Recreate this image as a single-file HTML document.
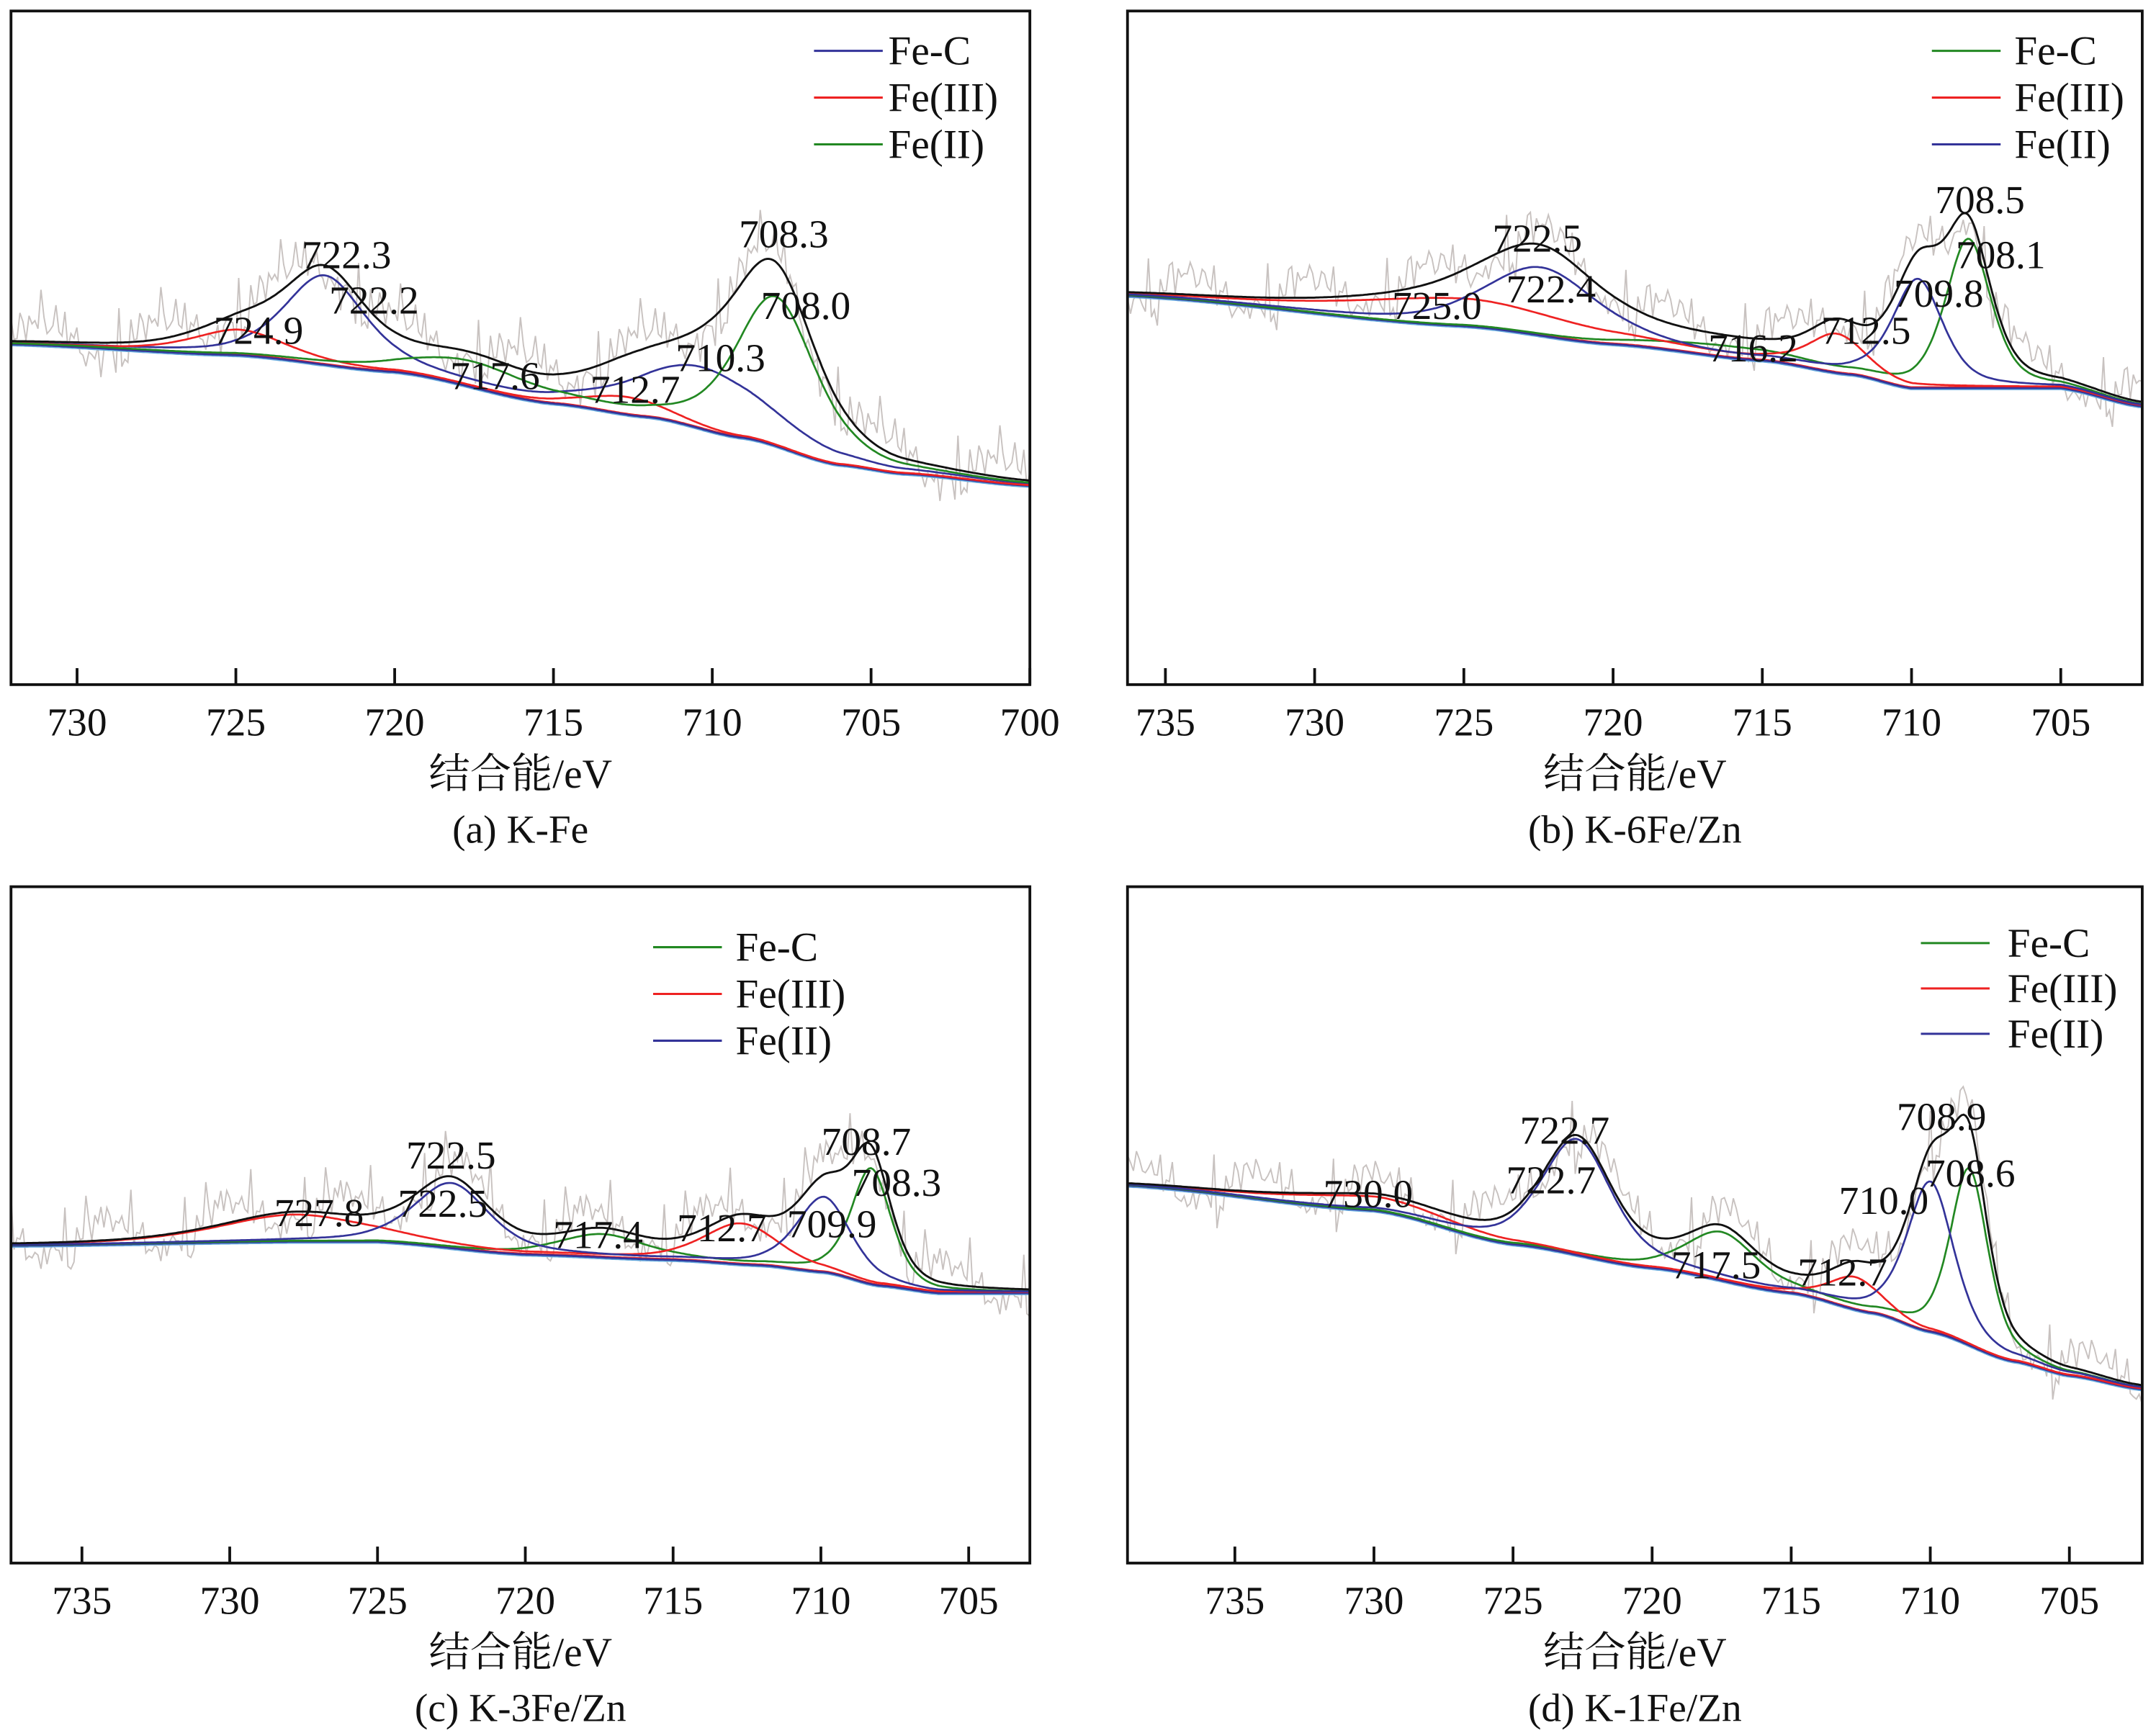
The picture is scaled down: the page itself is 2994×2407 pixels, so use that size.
<!DOCTYPE html>
<html><head><meta charset="utf-8"><style>
html,body{margin:0;padding:0;background:#fff}
svg{display:block}
text{font-family:"Liberation Serif","Noto Serif CJK SC",serif;fill:#111}
</style></head><body>
<svg id="fig" width="2994" height="2407" viewBox="0 0 1568 1260.6" preserveAspectRatio="none" xmlns="http://www.w3.org/2000/svg"></svg>
<script>
// ---------- data ----------
const panelIds=['a','b','c','d'];
const captions=['(a) K-Fe','(b) K-6Fe/Zn','(c) K-3Fe/Zn','(d) K-1Fe/Zn'];
const xTicksA=[730,725,720,715,710,705,700];
const xTicksB=[735,730,725,720,715,710,705];
const xTicksC=[735,730,725,720,715,710,705];
const xTicksD=[735,730,725,720,715,710,705];
const legendA=['Fe-C','Fe(III)','Fe(II)'];
const legendB=['Fe-C','Fe(III)','Fe(II)'];
// baseline points [eV, intensity]
const baseA=[[732.1,50.6],[725,49.0],[720,46.5],[715,41.8],[712,39.8],[709,36.7],[706,32.7],[704,31.4],[700,29.6]];
const baseB=[[736.3,57.8],[725,53.3],[720,50.6],[715,48.2],[712,46.1],[710,44.1],[707,44.1],[705,44.1],[702.3,41.4]];
const baseC=[[737.4,47.0],[727.8,47.6],[725,47.6],[720,45.7],[715,44.9],[712,44.1],[709.9,43.1],[708,41.1],[706,40.0],[702.9,40.0]];
const baseD=[[738.9,55.9],[730,52.2],[725,47.2],[720,43.7],[715,40.0],[712,37.0],[710,34.3],[707,29.9],[705,27.8],[702.4,25.8]];
// peaks: [component index (0=Fe-C,1=Fe(III),2=Fe(II)), center eV, height, fwhm]
const peaksA=[[0,722.2,13,3],[0,710.3,9,5],[1,724.9,3.7,3.5],[1,712.7,2.5,3],[2,708.0,22,3],[2,717.6,3.5,4.5]];
const peaksB=[[2,722.4,10,4.5],[1,725.0,4,9],[1,712.5,5.5,2.2],[2,709.8,16,2.0],[0,708.1,22,1.8],[0,716.2,1.5,6]];
const peaksC=[[2,722.5,9.5,3],[1,727.8,3.9,6],[0,717.4,3.3,3.5],[1,712.7,5.9,3],[2,709.9,11,2.2],[0,708.3,17,1.6]];
const peaksD=[[2,722.7,17,3],[1,730.0,2,7],[0,717.5,7,3],[1,712.7,4.7,2.2],[2,710.0,22,2],[0,708.6,26,1.6]];
// peak labels [text, x (display), y]
const labelsA=[['722.3',252,195],['722.2',272,228],['724.9',188,250],['717.6',360,283],['712.7',462,293],['710.3',524,270],['708.3',570,180],['708.0',586,232]];
const labelsB=[['722.5',1118,183],['722.4',1128,220],['725.0',1045,232],['716.2',1275,263],['712.5',1357,250],['709.8',1410,223],['708.5',1440,155],['708.1',1455,195]];
const labelsC=[['722.5',328,850],['722.5',322,885],['727.8',232,892],['717.4',435,908],['712.7',525,903],['709.9',605,900],['708.7',630,840],['708.3',652,870]];
const labelsD=[['722.7',1138,832],['722.7',1128,868],['730.0',995,878],['717.5',1248,930],['712.7',1340,935],['710.0',1370,883],['708.9',1412,822],['708.6',1433,863]];
// raw-data scatter offsets (hand-read, cycled)
const noiseVals=[2.1,-1.5,3.8,-0.6,1.2,-2.8,4.5,0.3,-1.9,2.6,-3.2,1.7,5.1,-0.9,0.4,-2.2,3.1,-1.1,2.4,-3.6,0.8,4.2,-1.4,1.9,-0.3,3.4,-2.5,0.6,2.9,-1.8,4.8,-0.7,1.5,-3.0,2.2,0.1,-2.4,3.6,-1.2,0.9];
// ---------- layout ----------
const frames=[{l:8,t:8,r:749,b:498,x0:732.08,x1:700},{l:820,t:8,r:1558,b:498,x0:736.27,x1:702.27},
{l:8,t:645,r:749,b:1137,x0:737.4,x1:702.93},{l:820,t:645,r:1558,b:1137,x0:738.86,x1:702.38}];
const legendPos=[{lx:592,tx:646,y:[37,71,105]},{lx:1405,tx:1465,y:[37,71,105]},{lx:475,tx:535,y:[689,723,757]},{lx:1397,tx:1460,y:[686,719,752]}];
const legendColors=[['#333399','#ee2222','#228822'],['#228822','#ee2222','#333399'],['#228822','#ee2222','#333399'],['#228822','#ee2222','#333399']];
const compColorMap=[{0:'#333399',1:'#ee2222',2:'#228822'},{0:'#228822',1:'#ee2222',2:'#333399'},{0:'#228822',1:'#ee2222',2:'#333399'},{0:'#228822',1:'#ee2222',2:'#333399'}];
const ticksAll=[xTicksA,xTicksB,xTicksC,xTicksD];
const basesAll=[baseA,baseB,baseC,baseD];
const peaksAll=[peaksA,peaksB,peaksC,peaksD];
const labelsAll=[labelsA,labelsB,labelsC,labelsD];
const legendsAll=[legendA,legendB,legendB,legendB];
const NS='http://www.w3.org/2000/svg';
const svg=document.getElementById('fig');
function mk(tag,attrs,parent){const e=document.createElementNS(NS,tag);for(const k in attrs)e.setAttribute(k,attrs[k]);parent.appendChild(e);return e;}
function baseAt(pts,x){for(let i=0;i<pts.length-1;i++){const a=pts[i],b=pts[i+1];if(x<=a[0]&&x>=b[0]){const t=(a[0]-x)/(a[0]-b[0]);const s=t*t*(3-2*t);return a[1]+(b[1]-a[1])*(0.5*t+0.5*s);}}return x>pts[0][0]?pts[0][1]:pts[pts.length-1][1];}
function prof(x,c,h,w){const d=(x-c)/(w/2);return h*(0.5/(1+d*d)+0.5*Math.exp(-Math.LN2*d*d));}
frames.forEach((f,pi)=>{
 const g=mk('g',{},svg);
 
 
 const xs=v=>f.l+(f.x0-v)/(f.x0-f.x1)*(f.r-f.l);
 const ys=v=>f.b-v/100*(f.b-f.t);
 const base=basesAll[pi],peaks=peaksAll[pi];
 const N=500,xsArr=[];for(let i=0;i<=N;i++)xsArr.push(f.x0-(f.x0-f.x1)*i/N);
 const clip=mk('clipPath',{id:'clip'+pi},g);mk('rect',{x:f.l,y:f.t,width:f.r-f.l,height:f.b-f.t},clip);
 const pg=mk('g',{'clip-path':'url(#clip'+pi+')'},g);
 // raw data
 let raw='';const M=340;
 for(let i=0;i<=M;i++){const x=f.x0-(f.x0-f.x1)*i/M;let y=baseAt(base,x);peaks.forEach(p=>y+=prof(x,p[1],p[2],p[3]));y+=noiseVals[(i*7+pi*3)%noiseVals.length]*(i%5===0?1.6:1.0);raw+=(i?'L':'M')+xs(x).toFixed(1)+','+ys(y).toFixed(1);}
 const rp=mk('path',{d:raw,fill:'none',stroke:'#c8c2c0','stroke-width':1},pg);
 
 
 // baselines
 [['#66aadd',1.2],['#ee2222',-0.2],['#333399',0.4]].forEach(([c,off])=>{let d='';xsArr.forEach((x,i)=>{d+=(i?'L':'M')+xs(x).toFixed(1)+','+(ys(baseAt(base,x))+off).toFixed(1);});
  const bp=mk('path',{d:d,fill:'none',stroke:c,'stroke-width':1.4},pg);
  
  });
 // components
 [0,1,2].forEach(ci=>{let d='';xsArr.forEach((x,i)=>{let y=baseAt(base,x);peaks.forEach(p=>{if(p[0]===ci)y+=prof(x,p[1],p[2],p[3]);});d+=(i?'L':'M')+xs(x).toFixed(1)+','+ys(y).toFixed(1);});
  const cp=mk('path',{d:d,fill:'none',stroke:compColorMap[pi][ci],'stroke-width':1.4},pg);
  
  });
 // envelope
 let env='';xsArr.forEach((x,i)=>{let y=baseAt(base,x);peaks.forEach(p=>y+=prof(x,p[1],p[2],p[3]));env+=(i?'L':'M')+xs(x).toFixed(1)+','+ys(y).toFixed(1);});
 const ep=mk('path',{d:env,fill:'none',stroke:'#111','stroke-width':1.5},pg);
 
 
 // frame
 const fr=mk('rect',{x:f.l,y:f.t,width:f.r-f.l,height:f.b-f.t,fill:'none',stroke:'#111','stroke-width':2},g);
 
 
 // ticks
 ticksAll[pi].forEach(t=>{const x=xs(t);
  const tl=mk('line',{x1:x,x2:x,y1:f.b,y2:f.b-12,stroke:'#111','stroke-width':2},g);
  
  
  const tt=mk('text',{x:x,y:f.b+37,'text-anchor':'middle','font-size':29},g);tt.textContent=t;
  
  });
 const cx=(f.l+f.r)/2;
 const at=mk('text',{x:cx,y:f.b+75,'text-anchor':'middle','font-size':30},g);at.textContent='结合能/eV';
 
 
 const cap=mk('text',{x:cx,y:f.b+115,'text-anchor':'middle','font-size':29},g);cap.textContent=captions[pi];
 
 
 // legend
 const lp=legendPos[pi];
 legendsAll[pi].forEach((name,k)=>{
  const le=mk('g',{},g);
  
  
  mk('line',{x1:lp.lx,x2:lp.lx+50,y1:lp.y[k],y2:lp.y[k],stroke:legendColors[pi][k],'stroke-width':1.6},le);
  const lt=mk('text',{x:lp.tx,y:lp.y[k]+10,'font-size':30},le);lt.textContent=name;});
 // peak labels
 labelsAll[pi].forEach(l=>{const t=mk('text',{x:l[1],y:l[2],'text-anchor':'middle','font-size':29},g);t.textContent=l[0];
  
  });
});
</script>
</body></html>
